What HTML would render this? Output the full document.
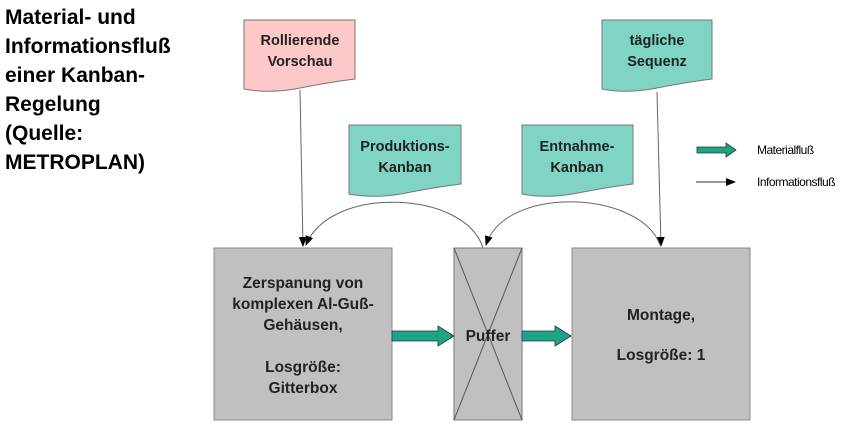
<!DOCTYPE html>
<html><head><meta charset="utf-8"><style>
body{margin:0;background:#fff}
svg{display:block}
text{font-family:"Liberation Sans",sans-serif;font-weight:bold}
</style></head><body>
<svg width="855" height="432" viewBox="0 0 855 432" xmlns="http://www.w3.org/2000/svg">
<defs>
<marker id="ah" markerWidth="10" markerHeight="10" refX="9" refY="5" orient="auto" markerUnits="userSpaceOnUse">
<path d="M0,1 L10,5 L0,9 Z" fill="#000"/></marker>
</defs>
<g font-size="21" fill="#000">
<text x="5" y="24">Material- und</text>
<text x="5" y="53">Informationsfluß</text>
<text x="5" y="82">einer Kanban-</text>
<text x="5" y="111">Regelung</text>
<text x="5" y="140">(Quelle:</text>
<text x="5" y="169">METROPLAN)</text>
</g>
<path d="M244,20 H355 V79 Q330,82 300,88 Q270,94 244,89 Z" fill="#fdc8c8" stroke="#777"/>
<path d="M602,20 H712 V79 Q687,82 657,88 Q627,94 602,89 Z" fill="#80d4c4" stroke="#777"/>
<path d="M349,125 H461 V184 Q436,187 406,193 Q376,199 349,194 Z" fill="#80d4c4" stroke="#777"/>
<path d="M522,125 H633 V184 Q608,187 578,193 Q548,199 522,194 Z" fill="#80d4c4" stroke="#777"/>
<g font-size="14.5" fill="#222" text-anchor="middle">
<text x="300" y="45">Rollierende</text><text x="300" y="66">Vorschau</text>
<text x="657" y="45">tägliche</text><text x="657" y="66">Sequenz</text>
<text x="405" y="151">Produktions-</text><text x="405" y="172">Kanban</text>
<text x="577" y="151">Entnahme-</text><text x="577" y="172">Kanban</text>
</g>
<g stroke="#666" stroke-width="1" fill="none" marker-end="url(#ah)">
<line x1="300" y1="90" x2="303" y2="246"/>
<line x1="657" y1="92" x2="661" y2="246"/>
<path d="M483,248 C465,190 330,185 306,245"/>
<path d="M660,245 C640,190 505,185 486,245"/>
</g>
<rect x="214" y="248" width="178" height="172" fill="#c0c0c0" stroke="#888"/>
<rect x="454" y="248" width="68" height="172" fill="#c0c0c0" stroke="#777"/>
<line x1="454" y1="248" x2="522" y2="420" stroke="#555"/>
<line x1="522" y1="248" x2="454" y2="420" stroke="#555"/>
<rect x="572" y="248" width="178" height="172" fill="#c0c0c0" stroke="#888"/>
<g font-size="15.5" fill="#222" text-anchor="middle">
<text x="303" y="288">Zerspanung von</text>
<text x="303" y="309">komplexen Al-Guß-</text>
<text x="303" y="330">Gehäusen,</text>
<text x="303" y="372">Losgröße:</text>
<text x="303" y="393">Gitterbox</text>
<text x="488" y="341">Puffer</text>
<text x="661" y="320">Montage,</text>
<text x="661" y="360">Losgröße: 1</text>
</g>
<path d="M392,331 H438 V326 L454,336 L438,346 V341 H392 Z" fill="#1aa585" stroke="#333" stroke-width="0.8"/>
<path d="M522,331 H555 V326 L571,336 L555,346 V341 H522 Z" fill="#1aa585" stroke="#333" stroke-width="0.8"/>
<path d="M697,147 H726 V143 L736,150 L726,157 V153 H697 Z" fill="#1aa585" stroke="#333" stroke-width="0.8"/>
<line x1="696" y1="182" x2="735" y2="182" stroke="#333" marker-end="url(#ah)"/>
<g font-size="12" fill="#000" style="letter-spacing:-0.5px">
<text x="757" y="154" style="font-weight:normal">Materialfluß</text>
<text x="757" y="186" style="font-weight:normal">Informationsfluß</text>
</g>
</svg>
</body></html>
